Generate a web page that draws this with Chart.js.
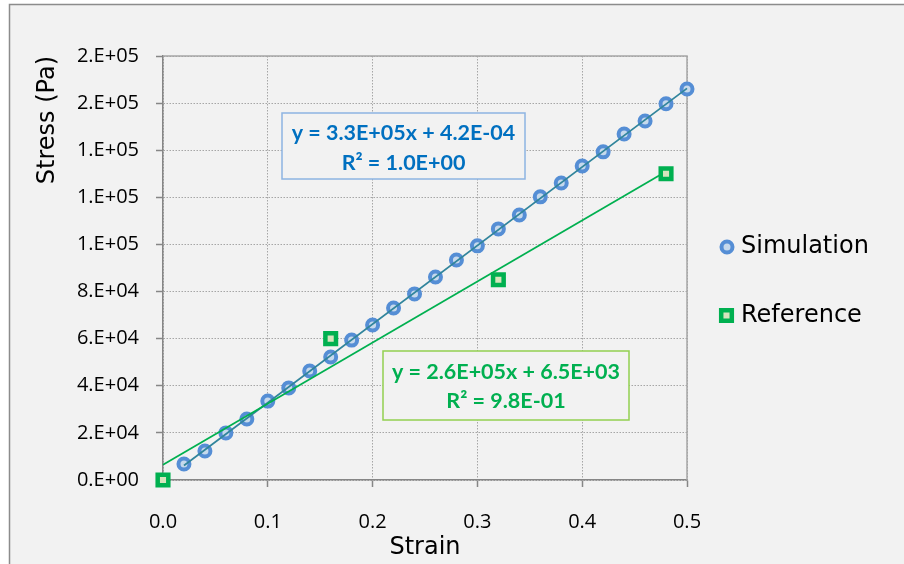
<!DOCTYPE html>
<html>
<head>
<meta charset="utf-8">
<script src="https://cdn.jsdelivr.net/npm/chart.js@4.4.1/dist/chart.umd.min.js"></script>
<style>
  html, body { margin: 0; padding: 0; background: #ffffff; }
  #wrap { width: 904px; height: 564px; }
</style>
</head>
<body>
<div id="wrap"><canvas id="c" width="904" height="564"></canvas></div>
<script>
// Simulated stress-strain samples
const strainSim = [0.02, 0.04, 0.06, 0.08, 0.10, 0.12, 0.14, 0.16, 0.18, 0.20, 0.22, 0.24, 0.26,
                   0.28, 0.30, 0.32, 0.34, 0.36, 0.38, 0.40, 0.42, 0.44, 0.46, 0.48, 0.50];
const stressSim = [6800, 12300, 20000, 25900, 33500, 39100, 46300, 52200, 59400, 65800, 73000, 79000, 86200,
                   93400, 99400, 106600, 112500, 120200, 126100, 133300, 139300, 146900, 152400, 159700, 166000];

// Reference measurements
const strainRef = [0, 0.16, 0.32, 0.48];
const stressRef = [0, 60000, 85000, 130000];

// Axis ticks
const xTicks = [0, 0.1, 0.2, 0.3, 0.4, 0.5];
const yTicks = [0, 20000, 40000, 60000, 80000, 100000, 120000, 140000, 160000, 180000];

const seriesNames = ['Simulation', 'Reference'];
const fitTextSim = ['y = 3.3E+05x + 4.2E-04', 'R\u00B2 = 1.0E+00'];
const fitTextRef = ['y = 2.6E+05x + 6.5E+03', 'R\u00B2 = 9.8E-01'];

const COL_SIM_EDGE = '#558ED5';
const COL_SIM_FILL = '#C6D9EC';
const COL_SIM_FIT = '#31859C';
const COL_REF = '#00B050';
const COL_REF_FILL = '#D7E4BD';

const SIM_MARK = { pointStyle: 'circle', radius: 5.5, borderWidth: 4 };
const REF_MARK = { pointStyle: 'rect', radius: 7.5, borderWidth: 4.5 };

function toPoints(xs, ys) { return xs.map((x, i) => ({ x: x, y: ys[i] })); }

// Least-squares linear trendline over the data range
function trendline(xs, ys) {
  const n = xs.length;
  const mx = xs.reduce((a, b) => a + b, 0) / n;
  const my = ys.reduce((a, b) => a + b, 0) / n;
  let sxy = 0, sxx = 0;
  for (let i = 0; i < n; i++) { sxy += (xs[i] - mx) * (ys[i] - my); sxx += (xs[i] - mx) ** 2; }
  const m = sxy / sxx, b = my - m * mx;
  const x0 = Math.min(...xs), x1 = Math.max(...xs);
  return [{ x: x0, y: m * x0 + b }, { x: x1, y: m * x1 + b }];
}

// Excel-like "0.E+00" number format
function sci(v) {
  const parts = v.toExponential(0).split('e');
  const e = parseInt(parts[1], 10);
  return parts[0] + '.E' + (e < 0 ? '-' : '+') + String(Math.abs(e)).padStart(2, '0');
}

const chartFrame = {
  id: 'chartFrame',
  beforeDraw(chart) {
    const ctx = chart.ctx;
    ctx.save();
    ctx.fillStyle = '#ffffff';
    ctx.fillRect(0, 0, chart.width, chart.height);
    ctx.fillStyle = '#F2F2F2';
    ctx.fillRect(9, 4, chart.width + 10, chart.height + 10);
    ctx.strokeStyle = '#8C8C8C';
    ctx.lineWidth = 1.5;
    ctx.strokeRect(9.5, 4.5, chart.width + 10, chart.height + 10);
    ctx.restore();
  },
  beforeDatasetsDraw(chart) {
    const a = chart.chartArea, ctx = chart.ctx;
    ctx.save();
    ctx.strokeStyle = '#A6A6A6';
    ctx.lineWidth = 1.5;
    ctx.beginPath();
    ctx.moveTo(a.left, a.top); ctx.lineTo(a.right, a.top); ctx.lineTo(a.right, a.bottom);
    ctx.stroke();
    ctx.restore();
  }
};

function drawFitBox(ctx, lines, cx, y1, y2, box, color, edge) {
  ctx.fillStyle = '#F2F2F2';
  ctx.fillRect(box[0], box[1], box[2] - box[0], box[3] - box[1]);
  ctx.strokeStyle = edge;
  ctx.lineWidth = 1.5;
  ctx.strokeRect(box[0], box[1], box[2] - box[0], box[3] - box[1]);
  ctx.fillStyle = color;
  ctx.font = 'bold 21.5px Lato';
  ctx.textAlign = 'center';
  ctx.textBaseline = 'middle';
  ctx.fillText(lines[0], cx, y1);
  ctx.fillText(lines[1], cx, y2);
}

const overlays = {
  id: 'overlays',
  afterDraw(chart) {
    const ctx = chart.ctx;
    ctx.save();
    drawFitBox(ctx, fitTextSim, 403.5, 133, 163, [282, 113, 525, 179], '#0070C0', '#8DB4E2');
    drawFitBox(ctx, fitTextRef, 506, 372, 401, [383, 351, 629, 420], COL_REF, '#92D050');

    // legend
    ctx.lineWidth = SIM_MARK.borderWidth;
    ctx.strokeStyle = COL_SIM_EDGE; ctx.fillStyle = COL_SIM_FILL;
    Chart.helpers.drawPoint(ctx, SIM_MARK, 727, 247);
    ctx.lineWidth = REF_MARK.borderWidth;
    ctx.strokeStyle = COL_REF; ctx.fillStyle = COL_REF_FILL;
    Chart.helpers.drawPoint(ctx, REF_MARK, 726.5, 315.5);
    ctx.fillStyle = '#000000';
    ctx.font = '24px "DejaVu Sans"';
    ctx.textAlign = 'left';
    ctx.textBaseline = 'middle';
    ctx.fillText(seriesNames[0], 741, 247);
    ctx.fillText(seriesNames[1], 741, 316);
    ctx.restore();
  }
};

const gridStyle = {
  color: '#A6A6A6', lineWidth: 1,
  tickLength: 7, tickColor: '#868686', tickWidth: 1.5, tickBorderDash: []
};
const borderStyle = { color: '#868686', width: 1.5, dash: [1.5, 1.5] };

new Chart(document.getElementById('c'), {
  type: 'scatter',
  data: {
    datasets: [
      {
        label: seriesNames[1], data: toPoints(strainRef, stressRef), order: 0, clip: false,
        pointStyle: REF_MARK.pointStyle, pointRadius: REF_MARK.radius, pointBorderWidth: REF_MARK.borderWidth,
        pointBorderColor: COL_REF, pointBackgroundColor: COL_REF_FILL
      },
      {
        label: seriesNames[1] + ' fit', data: trendline(strainRef, stressRef), order: 1, clip: false,
        showLine: true, borderColor: COL_REF, borderWidth: 1.75, pointRadius: 0
      },
      {
        label: seriesNames[0] + ' fit', data: trendline(strainSim, stressSim), order: 2, clip: false,
        showLine: true, borderColor: COL_SIM_FIT, borderWidth: 1.75, pointRadius: 0
      },
      {
        label: seriesNames[0], data: toPoints(strainSim, stressSim), order: 3, clip: false,
        pointStyle: SIM_MARK.pointStyle, pointRadius: SIM_MARK.radius, pointBorderWidth: SIM_MARK.borderWidth,
        pointBorderColor: COL_SIM_EDGE, pointBackgroundColor: COL_SIM_FILL
      }
    ]
  },
  options: {
    responsive: false,
    animation: false,
    events: [],
    layout: { padding: { left: 0, top: 56, right: 217, bottom: 0 } },
    plugins: { legend: { display: false }, tooltip: { enabled: false } },
    scales: {
      x: {
        type: 'linear', min: 0, max: 0.5,
        afterBuildTicks: s => { s.ticks = xTicks.map(v => ({ value: v })); },
        afterFit: s => { s.height = 84; },
        ticks: {
          color: '#000000', padding: 23,
          font: { family: '"Open Sans"', size: 20 },
          callback: v => Number(v).toFixed(1)
        },
        grid: gridStyle,
        border: borderStyle,
        title: {
          display: true, text: 'Strain', color: '#000000',
          font: { family: '"DejaVu Sans"', size: 24 }, padding: { top: 0, bottom: 2 }
        }
      },
      y: {
        type: 'linear', min: 0, max: 180000,
        afterBuildTicks: s => { s.ticks = yTicks.map(v => ({ value: v })); },
        afterFit: s => { s.width = 163; },
        ticks: {
          color: '#000000', padding: 17,
          font: { family: '"Open Sans"', size: 20 },
          callback: v => sci(v)
        },
        grid: gridStyle,
        border: borderStyle,
        title: {
          display: true, text: 'Stress (Pa)', color: '#000000', align: 'end',
          font: { family: '"DejaVu Sans"', size: 24 }, padding: { top: 33, bottom: 0 }
        }
      }
    }
  },
  plugins: [chartFrame, overlays]
});
</script>
</body>
</html>
